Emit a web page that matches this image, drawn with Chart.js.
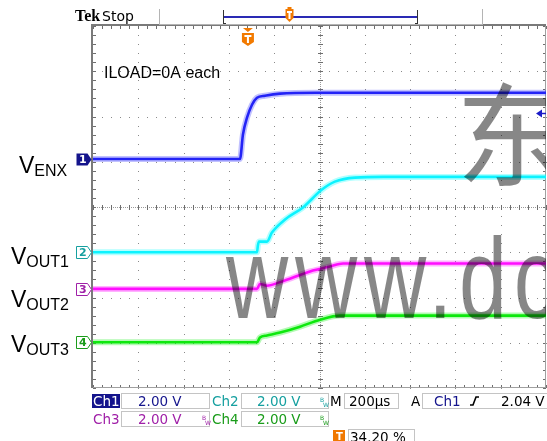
<!DOCTYPE html>
<html>
<head>
<meta charset="utf-8">
<script src="https://cdn.jsdelivr.net/npm/chart.js@4.4.0/dist/chart.umd.min.js"></script>
<style>
  html, body { margin: 0; padding: 0; background: #fff; }
  #wrap { width: 547px; height: 441px; position: relative; }
</style>
</head>
<body>
<div id="wrap"><canvas id="scope" width="547" height="441"></canvas></div>
<script>
// time in microseconds relative to the trigger, voltage in volts
const ch1Time = [-684, -35, -22, -4, 18, 40, 75, 142, 300, 1316];
const ch1Volts = [0, 0, 1.08, 1.83, 2.40, 2.71, 2.80, 2.89, 2.93, 2.93];

const ch2Time = [-684, 40, 44, 49, 84, 106, 164, 243, 327, 384, 473, 600, 1316];
const ch2Volts = [0, 0, 0.30, 0.47, 0.47, 0.87, 1.45, 1.98, 2.77, 3.12, 3.30, 3.33, 3.33];

const ch3Time = [-684, 40, 53, 84, 142, 274, 362, 420, 1316];
const ch3Volts = [0, 0, 0.22, 0.14, 0.30, 0.77, 0.99, 1.12, 1.12];

const ch4Time = [-684, 40, 53, 84, 142, 230, 318, 407, 1316];
const ch4Volts = [0, 0, 0.21, 0.30, 0.43, 0.69, 1.00, 1.18, 1.18];

const channelNames = ['V', 'V', 'V', 'V'];
const channelSubs = ['ENX', 'OUT1', 'OUT2', 'OUT3'];
const channelScale = ['2.00 V', '2.00 V', '2.00 V', '2.00 V'];
const timeScale = '200\u00b5s';
const triggerLevel = 2.04;
const triggerPercent = '34.20 %';
const noteText = 'ILOAD=0A each';

// scope settings
const voltsPerDiv = 2;
const usPerDiv = 200;
const tMin = -684;
const tMax = tMin + usPerDiv * 10;
const offsets = [1.06, -1.00, -1.81, -2.99];
const labelNudge = [0, -2, 4, -4];
const traceColors = ['#1e1ef2', '#12eeff', '#ff14ff', '#14e614'];
const haloColors = ['rgba(50,50,255,0.3)', 'rgba(0,255,255,0.3)', 'rgba(255,0,255,0.3)', 'rgba(0,240,0,0.3)'];
const labelColors = ['#14148c', '#16a0a0', '#a020a8', '#1a9c1a'];

const channels = [
  [ch1Time, ch1Volts],
  [ch2Time, ch2Volts],
  [ch3Time, ch3Volts],
  [ch4Time, ch4Volts]
];

function toPoints(times, volts, offset) {
  return times.map((t, i) => ({ x: t, y: offset + volts[i] / voltsPerDiv }));
}

const datasets = [];
channels.forEach(([times, volts], i) => {
  const data = toPoints(times, volts, offsets[i]);
  datasets.push({ data, borderColor: haloColors[i], borderWidth: 6, pointRadius: 0, cubicInterpolationMode: 'monotone' });
  datasets.push({ data, borderColor: traceColors[i], borderWidth: 2.6, pointRadius: 0, cubicInterpolationMode: 'monotone' });
});

const graticule = {
  id: 'graticule',
  beforeDatasetsDraw(chart) {
    const { ctx, chartArea: a, scales: { x, y } } = chart;
    ctx.save();
    ctx.fillStyle = '#8a8a8a';
    const xs = [];
    const ys = [];
    for (let i = 0; i <= 10; i++) xs.push(x.getPixelForValue(tMin + i * usPerDiv));
    for (let j = -4; j <= 4; j++) ys.push(y.getPixelForValue(j));
    // dotted major lines
    for (let i = 1; i < 10; i++) {
      if (i === 5) continue;
      for (let k = 0; k <= 40; k++) {
        const py = y.getPixelForValue(-4 + k / 5);
        ctx.fillRect(Math.round(xs[i]), Math.round(py), 1, 1);
      }
    }
    for (let j = 1; j < 8; j++) {
      if (j === 4) continue;
      for (let k = 0; k <= 50; k++) {
        const px = x.getPixelForValue(tMin + k * usPerDiv / 5);
        ctx.fillRect(Math.round(px), Math.round(ys[j]), 1, 1);
      }
    }
    // center cross
    const cx = Math.round(xs[5]);
    const cy = Math.round(ys[4]);
    ctx.fillStyle = '#9a9a9a';
    for (let px = a.left; px < a.right; px += 2) ctx.fillRect(px, cy, 1, 1);
    for (let py = a.top; py < a.bottom; py += 2) ctx.fillRect(cx, py, 1, 1);
    ctx.fillStyle = '#6e6e6e';
    for (let k = 0; k <= 50; k++) {
      const px = Math.round(x.getPixelForValue(tMin + k * usPerDiv / 5));
      ctx.fillRect(px, cy - 2, 1, 5);
      ctx.fillRect(px, a.top, 1, 3);
      ctx.fillRect(px, a.bottom - 3, 1, 3);
    }
    for (let k = 0; k <= 40; k++) {
      const py = Math.round(y.getPixelForValue(-4 + k / 5));
      ctx.fillRect(cx - 2, py, 5, 1);
      ctx.fillRect(a.left, py, 3, 1);
      ctx.fillRect(a.right - 3, py, 3, 1);
    }
    // frame
    ctx.fillStyle = '#7a7a7a';
    ctx.fillRect(a.left - 2, a.top - 2, a.right - a.left + 2, 2);
    ctx.fillRect(a.left - 2, a.top - 2, 2, a.bottom - a.top + 2);
    ctx.fillStyle = '#a0a0a0';
    ctx.fillRect(a.left, a.bottom - 1, a.right - a.left, 1);
    ctx.fillRect(a.right - 1, a.top, 1, a.bottom - a.top);
    ctx.restore();
  }
};

const overlays = {
  id: 'overlays',
  afterDatasetsDraw(chart) {
    const { ctx, chartArea: a, scales: { x, y } } = chart;
    ctx.save();
    ctx.beginPath();
    ctx.rect(a.left, a.top, a.right - a.left, a.bottom - a.top);
    ctx.clip();

    // watermark
    ctx.fillStyle = 'rgba(0,0,0,0.47)';
    ctx.textBaseline = 'alphabetic';
    ctx.font = '112px "Noto Sans CJK SC"';
    ctx.fillText('\u4e1c', 456, 178);
    ctx.save();
    ctx.translate(226, 318);
    ctx.scale(0.75, 1);
    ctx.font = '115px "Liberation Sans"';
    ctx.letterSpacing = '9px';
    ctx.fillText('www.dc', 0, 0);
    ctx.restore();

    // note
    ctx.fillStyle = '#000';
    ctx.font = '16px "Liberation Sans"';
    ctx.fillText(noteText, 104, 78);

    // trigger level arrow
    const ty = Math.round(y.getPixelForValue(offsets[0] + triggerLevel / voltsPerDiv)) + 0.5;
    ctx.strokeStyle = '#1c1cc8';
    ctx.fillStyle = '#1c1cc8';
    ctx.lineWidth = 1.5;
    ctx.beginPath();
    ctx.moveTo(a.right, ty);
    ctx.lineTo(a.right - 8, ty);
    ctx.stroke();
    ctx.beginPath();
    ctx.moveTo(a.right - 10, ty);
    ctx.lineTo(a.right - 4, ty - 4);
    ctx.lineTo(a.right - 4, ty + 4);
    ctx.closePath();
    ctx.fill();
    ctx.restore();

    // trigger position marker
    const tx = x.getPixelForValue(0);
    drawTMarker(ctx, tx, a.top + 2, true);
  },
  afterDraw(chart) {
    const { ctx, chartArea: a, scales: { x, y } } = chart;
    ctx.save();

    // channel ground markers and names
    channels.forEach((c, i) => {
      const gy = Math.round(y.getPixelForValue(offsets[i]));
      drawChannelTag(ctx, a.left - 1, gy, i);
      ctx.fillStyle = '#000';
      ctx.textBaseline = 'alphabetic';
      ctx.font = '23px "Liberation Sans"';
      const nx = i === 0 ? 19 : 11;
      const by = gy + 14 + labelNudge[i];
      ctx.fillText(channelNames[i], nx, by);
      const w = ctx.measureText(channelNames[i]).width;
      ctx.font = '16px "Liberation Sans"';
      ctx.fillText(channelSubs[i], nx + w, by + 3);
    });

    // top status bar
    ctx.fillStyle = '#000';
    ctx.font = 'bold 16px "Liberation Serif"';
    ctx.fillText('Tek', 75, 21);
    ctx.font = '14px "DejaVu Sans"';
    ctx.fillText('Stop', 102, 21);
    ctx.fillStyle = '#b4b4b4';
    ctx.fillRect(159, 9, 1, 16);
    ctx.fillRect(482, 9, 1, 16);
    ctx.fillRect(159, 24, 323, 1);
    ctx.fillStyle = '#2a2ab4';
    ctx.fillRect(224, 16, 193, 2);
    ctx.fillStyle = '#333';
    ctx.fillRect(223, 10, 1, 14);
    ctx.fillRect(223, 23, 3, 1);
    ctx.fillRect(417, 10, 1, 14);
    ctx.fillRect(415, 23, 3, 1);
    drawTMarker(ctx, 289.5, 9, false);

    // readout
    ctx.textBaseline = 'alphabetic';
    ctx.font = '13.5px "DejaVu Sans"';
    const box = (x0, y0, w, h) => {
      ctx.strokeStyle = '#c4c4c4';
      ctx.lineWidth = 1;
      ctx.strokeRect(x0 + 0.5, y0 + 0.5, w, h);
    };
    ctx.fillStyle = '#14148c';
    ctx.fillRect(92, 394, 28, 14);
    ctx.fillStyle = '#fff';
    ctx.fillText('Ch1', 93, 406);
    box(121, 393, 88, 15);
    ctx.fillStyle = labelColors[0];
    ctx.fillText(channelScale[0], 138, 406);

    ctx.fillStyle = labelColors[1];
    ctx.fillText('Ch2', 212, 406);
    box(241, 393, 87, 15);
    ctx.fillText(channelScale[1], 257, 406);
    drawBW(ctx, 320, 397, labelColors[1]);

    ctx.fillStyle = '#000';
    ctx.fillText('M', 330, 406);
    box(344, 393, 54, 15);
    ctx.fillText(timeScale, 349, 406);
    ctx.fillText('A', 411, 406);
    box(422, 393, 130, 15);
    ctx.fillStyle = labelColors[0];
    ctx.fillText('Ch1', 434, 406);
    ctx.strokeStyle = '#000';
    ctx.lineWidth = 1.6;
    ctx.beginPath();
    ctx.moveTo(470, 405);
    ctx.lineTo(473, 405);
    ctx.lineTo(476, 397);
    ctx.lineTo(479, 397);
    ctx.stroke();
    ctx.fillStyle = '#000';
    ctx.fillText(triggerLevel.toFixed(2) + ' V', 501, 406);

    ctx.fillStyle = labelColors[2];
    ctx.fillText('Ch3', 93, 424);
    box(121, 411, 88, 15);
    ctx.fillText(channelScale[2], 138, 424);
    drawBW(ctx, 202, 415, labelColors[2]);
    ctx.fillStyle = labelColors[3];
    ctx.fillText('Ch4', 212, 424);
    box(241, 411, 87, 15);
    ctx.fillText(channelScale[3], 257, 424);
    drawBW(ctx, 320, 415, labelColors[3]);

    ctx.fillStyle = '#f07800';
    ctx.fillRect(333, 430, 12, 12);
    ctx.fillStyle = '#fff';
    ctx.font = 'bold 10px "DejaVu Sans"';
    ctx.fillText('T', 336, 440);
    box(348, 429, 66, 15);
    ctx.fillStyle = '#000';
    ctx.font = '13.5px "DejaVu Sans"';
    ctx.fillText(triggerPercent, 350, 442);

    ctx.restore();
  }
};

function drawBW(ctx, x0, y0, color) {
  ctx.save();
  ctx.fillStyle = color;
  ctx.font = '6px "DejaVu Sans"';
  ctx.fillText('B', x0, y0 + 5);
  ctx.fillText('W', x0 + 3, y0 + 10);
  ctx.restore();
}

function drawTMarker(ctx, cx, top, pointer) {
  ctx.save();
  ctx.fillStyle = '#f27a00';
  let y0 = top;
  if (pointer) {
    ctx.beginPath();
    ctx.moveTo(cx - 5, y0);
    ctx.lineTo(cx + 5, y0);
    ctx.lineTo(cx, y0 + 4);
    ctx.closePath();
    ctx.fill();
    y0 += 5;
  } else {
    ctx.fillRect(cx - 2, y0 - 2, 4, 2);
  }
  const w = pointer ? 12 : 8;
  const h = 13;
  ctx.beginPath();
  ctx.moveTo(cx - w / 2, y0);
  ctx.lineTo(cx + w / 2, y0);
  ctx.lineTo(cx + w / 2, y0 + h - 4);
  ctx.lineTo(cx, y0 + h);
  ctx.lineTo(cx - w / 2, y0 + h - 4);
  ctx.closePath();
  ctx.fill();
  ctx.fillStyle = '#fff';
  ctx.fillRect(cx - (pointer ? 3.5 : 2.5), y0 + 2, pointer ? 7 : 5, 2);
  ctx.fillRect(cx - 1, y0 + 2, 2, h - 5);
  ctx.restore();
}

function drawChannelTag(ctx, right, cy, i) {
  ctx.save();
  const left = right - 16;
  const top = cy - 6;
  const h = 12;
  ctx.beginPath();
  ctx.moveTo(left + 0.5, top + 0.5);
  ctx.lineTo(right - 4.5, top + 0.5);
  ctx.lineTo(right - 0.5, cy + 0.5);
  ctx.lineTo(right - 4.5, top + h + 0.5);
  ctx.lineTo(left + 0.5, top + h + 0.5);
  ctx.closePath();
  ctx.font = 'bold 11px "DejaVu Sans"';
  ctx.textBaseline = 'middle';
  if (i === 0) {
    ctx.fillStyle = labelColors[0];
    ctx.fill();
    ctx.fillStyle = '#fff';
  } else {
    ctx.fillStyle = '#fff';
    ctx.fill();
    ctx.strokeStyle = labelColors[i];
    ctx.lineWidth = 1;
    ctx.stroke();
    ctx.fillStyle = labelColors[i];
  }
  ctx.fillText(String(i + 1), left + 3, cy + 1);
  ctx.restore();
}

new Chart(document.getElementById('scope').getContext('2d'), {
  type: 'line',
  data: { datasets },
  options: {
    responsive: false,
    animation: false,
    events: [],
    layout: { padding: { left: 93, top: 26, right: 1, bottom: 53 } },
    plugins: {
      legend: { display: false },
      tooltip: { enabled: false }
    },
    scales: {
      x: { type: 'linear', min: tMin, max: tMax, display: false },
      y: { type: 'linear', min: -4, max: 4, display: false }
    }
  },
  plugins: [graticule, overlays]
});
</script>
</body>
</html>
